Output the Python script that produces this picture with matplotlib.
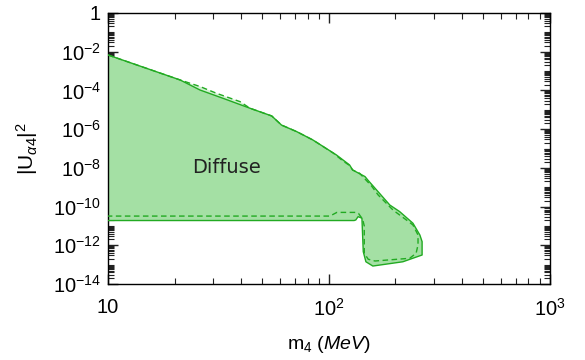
import numpy as np
import matplotlib
matplotlib.use("Agg")
import matplotlib.pyplot as plt
from matplotlib.ticker import FixedLocator, FixedFormatter, LogLocator, NullFormatter

plt.rcParams['font.family'] = ['Liberation Sans', 'DejaVu Sans']
plt.rcParams['mathtext.fontset'] = 'custom'
plt.rcParams['mathtext.rm'] = 'Liberation Sans'
plt.rcParams['mathtext.it'] = 'Liberation Sans:italic'
plt.rcParams['mathtext.bf'] = 'Liberation Sans:bold'

# Solid contour (m4 in MeV, log10 |U|^2)
solid_m = [10, 21.2, 26.1, 33.2, 43.9, 55.1, 61, 71.5, 84.6, 108, 124, 128, 145.6, 150,
           188.6, 209, 240, 258, 264, 264, 216, 158, 147, 143, 141, 135.5, 132.3, 130, 10]
solid_logU = [-2.17, -3.46, -3.98, -4.41, -4.92, -5.32, -5.79, -6.13, -6.56, -7.33, -7.85, -8.11, -8.45, -8.63,
              -9.92, -10.26, -10.86, -11.47, -11.81, -12.5, -12.85, -13.07, -12.85, -12.33, -10.6, -10.52, -10.69, -10.72, -10.72]

# Dashed contour
dash_m = [10, 21.2, 26.1, 31, 39.6, 43.9, 55.1, 61, 71.5, 84.6, 105, 115, 124, 128, 137.7,
          156, 167, 179, 195, 224, 240, 253, 253, 248, 232, 161.6, 150.6, 144.5, 144.5,
          142, 136, 133.4, 108.6, 101, 10]
dash_logU = [-2.17, -3.46, -3.8, -4.15, -4.58, -4.92, -5.32, -5.79, -6.13, -6.56, -7.25, -7.62, -7.88, -8.11, -8.28,
             -8.94, -9.4, -9.75, -10.18, -10.69, -10.95, -11.47, -11.98, -12.41, -12.67, -12.81, -12.72, -12.41, -11.0,
             -10.65, -10.35, -10.3, -10.3, -10.49, -10.49]

region_label = "Diffuse"
label_pos = (34.5, 1e-8)

x_ticks = [10, 100, 1000]
x_ticklabels = ['10', r'$10^2$', r'$10^3$']
y_ticks = [1, 1e-2, 1e-4, 1e-6, 1e-8, 1e-10, 1e-12, 1e-14]
y_ticklabels = ['1', r'$10^{-2}$', r'$10^{-4}$', r'$10^{-6}$', r'$10^{-8}$',
                r'$10^{-10}$', r'$10^{-12}$', r'$10^{-14}$']

line_c = '#22aa22'
fill_c = '#a4e0a4'
light_c = '#d2f0d2'

fig = plt.figure(figsize=(5.85, 3.6), dpi=100)
ax = fig.add_axes([0.1846, 0.211, 0.7554, 0.753])

sm = np.array(solid_m); su = 10 ** np.array(solid_logU)
dm = np.array(dash_m); du = 10 ** np.array(dash_logU)

ax.fill(dm, du, color=light_c, lw=0, zorder=1)
ax.fill(sm, su, color=fill_c, lw=0, zorder=2)
ax.plot(dm, du, color=line_c, lw=1.0, ls=(0, (4, 2.5)), zorder=3)
ax.plot(sm, su, color=line_c, lw=1.0, zorder=4)

ax.text(label_pos[0], label_pos[1], region_label, fontsize=14, family='DejaVu Sans',
        ha='center', va='center', color='#222222', zorder=5)

ax.set_xscale('log'); ax.set_yscale('log')
ax.set_xlim(10, 1000); ax.set_ylim(1e-14, 1)

ax.xaxis.set_major_locator(FixedLocator(x_ticks))
ax.xaxis.set_major_formatter(FixedFormatter(x_ticklabels))
ax.xaxis.set_minor_locator(LogLocator(base=10, subs=np.arange(2, 10), numticks=20))
ax.xaxis.set_minor_formatter(NullFormatter())

ax.yaxis.set_major_locator(FixedLocator(y_ticks))
ax.yaxis.set_major_formatter(FixedFormatter(y_ticklabels))
ax.yaxis.set_minor_locator(LogLocator(base=10, subs=np.arange(1, 10), numticks=40))
ax.yaxis.set_minor_formatter(NullFormatter())

ax.tick_params(which='both', direction='in', top=True, right=True, color='#222222')
ax.tick_params(which='major', length=7, width=1.0, labelsize=14.5, pad=5)
ax.tick_params(which='minor', length=4, width=0.8)
ax.tick_params(axis='x', which='major', pad=10)
for s in ax.spines.values():
    s.set_linewidth(1.0)

ax.set_xlabel(r'm$_4$ $\mathit{(MeV)}$', fontsize=14, labelpad=10)
ax.set_ylabel(r'$|\mathrm{U}_{\alpha 4}|^2$', fontsize=15, labelpad=9)

fig.savefig('out.png', dpi=100)
